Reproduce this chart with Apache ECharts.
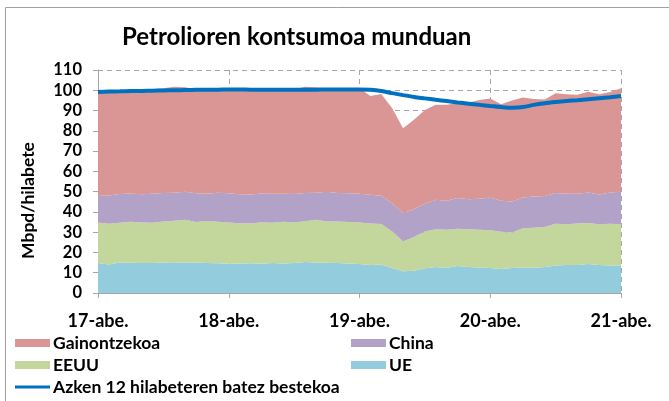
<!DOCTYPE html>
<html>
<head>
    <meta charset="UTF-8">
    <title>Petrolioren kontsumoa munduan</title>
    <script src="https://cdn.jsdelivr.net/npm/echarts@6/dist/echarts.min.js"></script>
    <style>
        html, body { margin: 0; padding: 0; background: #fff; }
    </style>
</head>
<body>
<div id="chart" style="width: 669px;height:401px;"></div>

<script type="text/javascript">
    // hilabeteak: 2017ko abendua - 2021eko abendua
    var months = [
        '17-abe.',
        '18-urt.', '18-ots.', '18-mar.', '18-api.', '18-mai.', '18-eka.', '18-uzt.', '18-abu.', '18-ira.', '18-urr.', '18-aza.', '18-abe.',
        '19-urt.', '19-ots.', '19-mar.', '19-api.', '19-mai.', '19-eka.', '19-uzt.', '19-abu.', '19-ira.', '19-urr.', '19-aza.', '19-abe.',
        '20-urt.', '20-ots.', '20-mar.', '20-api.', '20-mai.', '20-eka.', '20-uzt.', '20-abu.', '20-ira.', '20-urr.', '20-aza.', '20-abe.',
        '21-urt.', '21-ots.', '21-mar.', '21-api.', '21-mai.', '21-eka.', '21-uzt.', '21-abu.', '21-ira.', '21-urr.', '21-aza.', '21-abe.'
    ];

    var ue = [14.8, 14.0, 15.0, 14.9, 14.8, 14.8, 15.0, 15.2, 15.1, 15.0, 14.8, 14.7, 14.4,
        14.5, 14.7, 14.4, 14.8, 14.5, 14.8, 15.3, 15.0, 14.9, 14.8, 14.6, 14.3,
        13.8, 14.0, 12.3, 10.7, 11.0, 12.2, 12.8, 12.5, 13.3, 12.8, 12.6, 12.3,
        11.8, 12.3, 12.6, 12.5, 12.8, 13.6, 13.8, 13.8, 14.3, 13.8, 13.6, 13.4];

    var eeuu = [20.0, 20.2, 19.6, 20.3, 20.0, 19.8, 20.3, 20.4, 21.0, 20.0, 20.7, 20.4, 20.4,
        19.9, 19.6, 20.5, 19.9, 20.7, 20.0, 20.1, 21.1, 20.4, 20.5, 20.4, 20.5,
        20.5, 20.0, 18.0, 14.7, 16.6, 18.1, 18.7, 18.7, 18.4, 18.7, 18.6, 18.6,
        18.4, 17.6, 19.4, 19.7, 19.7, 20.5, 20.1, 20.5, 20.2, 20.1, 20.5, 20.5];

    var china = [13.2, 13.9, 14.2, 13.9, 13.9, 14.3, 14.0, 13.9, 13.8, 14.2, 13.5, 14.3, 14.4,
        14.3, 14.3, 14.2, 14.3, 13.7, 14.0, 13.9, 13.4, 14.6, 14.0, 14.2, 14.2,
        14.2, 14.0, 14.0, 14.0, 13.8, 13.7, 14.5, 14.3, 15.1, 14.8, 15.3, 16.2,
        15.3, 15.2, 15.1, 15.4, 15.4, 15.2, 15.1, 14.7, 15.1, 14.7, 15.5, 16.0];

    var gainontzekoa = [50.5, 50.9, 50.7, 50.4, 51.3, 51.6, 51.7, 52.2, 51.6, 51.3, 51.0, 51.1, 51.3,
        51.3, 51.7, 51.2, 50.8, 51.1, 51.7, 52.4, 52.0, 50.9, 51.2, 51.6, 52.0,
        48.7, 50.2, 46.8, 41.9, 44.0, 46.3, 46.8, 47.3, 46.8, 47.6, 48.7, 48.9,
        47.6, 49.8, 49.3, 48.1, 47.6, 49.2, 49.0, 48.8, 49.7, 49.4, 49.6, 51.1];

    // azken 12 hilabeteen batez bestekoa
    var batezBestekoa = [99.2, 99.4, 99.5, 99.6, 99.7, 99.8, 99.9, 100.0, 100.1, 100.2, 100.3, 100.3, 100.4,
        100.4, 100.3, 100.3, 100.2, 100.2, 100.2, 100.3, 100.3, 100.4, 100.4, 100.4, 100.4,
        100.2, 99.6, 98.6, 97.6, 96.7, 96.0, 95.3, 94.7, 94.0, 93.4, 92.8, 92.2,
        91.7, 91.4, 91.7, 92.8, 93.6, 94.2, 94.7, 95.1, 95.6, 96.1, 96.6, 97.2];

    var chart = echarts.init(document.getElementById('chart'));

    var fontFamily = 'Lato, "Open Sans", sans-serif';
    var gridColor = '#a6a6a6';

    function areaSeries(name, data, color) {
        return {
            name: name,
            type: 'line',
            stack: 'guztira',
            data: data,
            symbol: 'none',
            lineStyle: {width: 0},
            areaStyle: {color: color, opacity: 1},
            itemStyle: {color: color},
            z: 2
        };
    }

    function legendAt(name, left, top, iconHeight) {
        return {
            data: [name],
            left: left,
            top: top,
            icon: 'rect',
            itemWidth: 35,
            itemHeight: iconHeight || 8,
            itemGap: 0,
            padding: 0,
            textStyle: {fontFamily: fontFamily, fontSize: 17.5, fontWeight: 'bold', color: '#000', padding: [0, 0, 0, -2]},
            selectedMode: false
        };
    }

    var option = {
        animation: false,
        graphic: [{
            type: 'rect',
            shape: {x: 5.5, y: 7.5, width: 700, height: 420},
            style: {fill: 'none', stroke: '#a0a0a0', lineWidth: 1},
            silent: true
        }, {
            type: 'text',
            left: 19,
            top: 'middle',
            y: 207,
            rotation: Math.PI / 2,
            style: {
                text: 'Mbpd/hilabete',
                x: 0, y: 0,
                align: 'center',
                verticalAlign: 'middle',
                font: 'bold 17.5px Lato, sans-serif',
                fill: '#000'
            },
            silent: true
        }],
        title: {
            text: 'Petrolioren kontsumoa munduan',
            left: 117,
            top: 20,
            textStyle: {fontFamily: fontFamily, fontSize: 24, fontWeight: 'bold', color: '#000'}
        },
        legend: [
            legendAt('Gainontzekoa', 15, 334),
            legendAt('China', 351, 334),
            legendAt('EEUU', 15, 356),
            legendAt('UE', 351, 356),
            legendAt('Azken 12 hilabeteren batez bestekoa', 15, 378, 3)
        ],
        grid: {left: 98, right: 48, top: 70, bottom: 108},
        xAxis: {
            type: 'category',
            boundaryGap: false,
            data: months,
            axisLine: {lineStyle: {color: gridColor}},
            axisTick: {show: true, interval: 11, length: 5, lineStyle: {color: gridColor}},
            axisLabel: {
                interval: 11,
                margin: 19,
                fontFamily: fontFamily, fontSize: 18, fontWeight: 'bold', color: '#000'
            },
            splitLine: {show: true, interval: 11, lineStyle: {color: gridColor, type: [5, 4]}}
        },
        yAxis: {
            type: 'value',
            min: 0,
            max: 110,
            interval: 10,
            axisLine: {show: true, lineStyle: {color: gridColor}},
            axisTick: {show: true, length: 5, lineStyle: {color: gridColor}},
            axisLabel: {margin: 16, fontFamily: fontFamily, fontSize: 16.5, fontWeight: 'bold', color: '#000'},
            splitLine: {show: true, lineStyle: {color: gridColor, type: [5, 4]}}
        },
        series: [
            areaSeries('UE', ue, '#93cddd'),
            areaSeries('EEUU', eeuu, '#c3d69b'),
            areaSeries('China', china, '#b3a2c7'),
            areaSeries('Gainontzekoa', gainontzekoa, '#d99694'),
            {
                name: 'Azken 12 hilabeteren batez bestekoa',
                type: 'line',
                data: batezBestekoa,
                symbol: 'none',
                smooth: 0.3,
                lineStyle: {color: '#0070c0', width: 4},
                itemStyle: {color: '#0070c0'},
                z: 3
            }
        ]
    };

    chart.setOption(option);
</script>
</body>
</html>
